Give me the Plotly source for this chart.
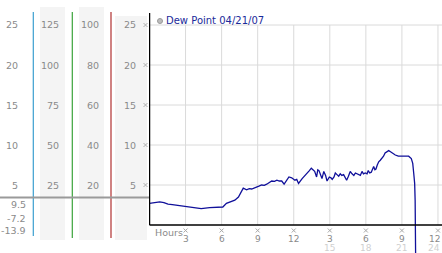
import plotly.graph_objects as go

W, H = 442, 253

# ---- data ----
hours = [0.0, 0.4, 0.85, 1.2, 1.54, 1.9, 2.37, 2.7, 3.06, 3.4, 3.76, 4.3, 5.0, 5.5, 6.1,
         6.4, 6.7, 7.1, 7.4, 7.67, 7.8, 8.08, 8.3, 8.5, 8.7, 8.9, 9.1, 9.33, 9.55, 9.75,
         9.95, 10.17, 10.4, 10.6, 10.8, 11.0, 11.2, 11.4, 11.6, 11.83, 12.1, 12.25, 12.4,
         12.7, 12.9, 13.1, 13.3, 13.46, 13.6, 13.74, 13.9, 14.0, 14.1, 14.22, 14.35, 14.5,
         14.65, 14.77, 14.96, 15.1, 15.2, 15.35, 15.46, 15.6, 15.74, 15.87, 16.0, 16.15,
         16.3, 16.4, 16.55, 16.7, 16.85, 17.0, 17.13, 17.26, 17.4, 17.54, 17.68, 17.8,
         17.95, 18.1, 18.2, 18.32, 18.45, 18.55, 18.65, 18.75, 18.84, 18.95, 19.07, 19.2,
         19.34, 19.47, 19.6, 19.75, 19.9, 20.05, 20.17, 20.3, 20.45, 20.7, 21.15, 21.56,
         21.78, 21.9, 21.98, 22.06, 22.1, 22.2]
dew_point = [2.7, 2.75, 2.9, 2.8, 2.6, 2.55, 2.45, 2.4, 2.3, 2.2, 2.08, 2.05, 2.17, 2.2, 2.25,
             2.7, 2.9, 3.1, 3.5, 4.3, 4.6, 4.4, 4.55, 4.5, 4.65, 4.7, 4.85, 5.0, 4.95, 5.1,
             5.3, 5.5, 5.45, 5.6, 5.5, 5.5, 5.1, 5.5, 6.0, 5.9, 5.6, 5.7, 5.2,
             5.8, 6.1, 6.5, 6.8, 7.1, 6.9, 6.7, 6.0, 6.9, 6.8, 6.3, 5.8, 6.7,
             6.2, 5.5, 6.0, 5.9, 5.7, 6.0, 6.5, 6.3, 6.1, 6.4, 6.2, 6.3,
             5.8, 5.6, 6.1, 6.7, 6.4, 6.2, 6.5, 6.4, 6.3, 6.2, 6.7, 6.4,
             6.5, 6.4, 6.8, 6.5, 6.6, 7.1, 7.3, 6.9, 7.0, 7.5, 7.9, 8.1,
             8.3, 8.6, 9.0, 9.1, 9.3, 9.15, 9.0, 8.9, 8.75, 8.6, 8.6, 8.6,
             8.3, 7.7, 6.5, 5.2, 3.1, -13.9]
assert len(hours) == len(dew_point)

series_name = "Dew Point 04/21/07"
y_ticks = [5, 10, 15, 20, 25]
col2_labels = ["25", "50", "75", "100", "125"]
col3_labels = ["20", "40", "60", "80", "100"]
x_ticks = [3, 6, 9, 12, 15, 18, 21, 24]
x_tick_labels = ["3", "6", "9", "12", "3", "6", "9", "12"]
x_tick_labels2 = {15: "15", 18: "18", 21: "21", 24: "24"}
current_labels = ["9.5", "-7.2", "-13.9"]

# ---- geometry helpers (pixel -> paper) ----
def px(x):
    return x / W

def py(y):
    return 1 - y / H

X0_PX = 149.0
PX_PER_HOUR = 12.02
PX_PER_UNIT = 8.0
Y0_PX = 225.0
x_range = [(X0_PX - (X0_PX + 0.5)) / PX_PER_HOUR, (W - (X0_PX + 0.5)) / PX_PER_HOUR]
y_range = [(Y0_PX - H) / PX_PER_UNIT, (Y0_PX - 13) / PX_PER_UNIT]

def hour_px(h):
    return X0_PX + 0.5 + h * PX_PER_HOUR

fig = go.Figure()
fig.add_trace(go.Scatter(x=hours, y=dew_point, mode="lines",
                         line=dict(color="#10109a", width=1.3),
                         showlegend=False, hoverinfo="skip"))

shapes = []
annotations = []
FONT = "DejaVu Sans"
GRAY = "#8a8a8a"

def tick_mark(cx, cy, color="#b0b0b0"):
    # small hatched tick mark, drawn as a tiny cross (pixel coords)
    for (x0, y0, x1, y1) in [(cx - 2, cy - 2, cx + 2, cy + 2), (cx - 2, cy + 2, cx + 2, cy - 2)]:
        shapes.append(dict(type="line", xref="paper", yref="paper", x0=px(x0), y0=py(y0),
                           x1=px(x1), y1=py(y1), line=dict(color=color, width=1)))

# left panel backgrounds
for x0, x1, y0, y1 in [(40, 65, 7, 240), (79, 104, 7, 240), (115, 147, 16, 240)]:
    shapes.append(dict(type="rect", xref="paper", yref="paper", x0=px(x0), x1=px(x1),
                       y0=py(y1), y1=py(y0), fillcolor="#f4f4f4", line=dict(width=0),
                       layer="below"))

# gridlines in the plot
for v in y_ticks:
    shapes.append(dict(type="line", xref="x", yref="y", x0=0, x1=x_range[1], y0=v, y1=v,
                       line=dict(color="#dadada", width=1), layer="below"))
for h in x_ticks:
    shapes.append(dict(type="line", xref="x", yref="y", x0=h, x1=h, y0=0, y1=25,
                       line=dict(color="#dadada", width=1), layer="below"))

# axis lines
shapes.append(dict(type="line", xref="x", yref="y", x0=0, x1=0, y0=0, y1=y_range[1],
                   line=dict(color="black", width=1.5)))
shapes.append(dict(type="line", xref="x", yref="y", x0=0, x1=x_range[1], y0=0, y1=0,
                   line=dict(color="black", width=1.5)))

# left panel colored lines
for xp, col, y0, y1 in [(33.3, "#3a9fd0", 12, 236), (72.3, "#3aa33a", 12, 238),
                        (111, "#b03030", 12, 238)]:
    shapes.append(dict(type="line", xref="paper", yref="paper", x0=px(xp), x1=px(xp),
                       y0=py(y0), y1=py(y1), line=dict(color=col, width=1.2)))
# gray horizontal divider
shapes.append(dict(type="line", xref="paper", yref="paper", x0=0, x1=px(149),
                   y0=py(197.5), y1=py(197.5), line=dict(color="#9a9a9a", width=2)))

# legend marker
shapes.append(dict(type="circle", xref="paper", yref="paper", x0=px(157.5), x1=px(162.5),
                   y0=py(23.5), y1=py(18.5), fillcolor="#bdbdbd",
                   line=dict(color="#9a9a9a", width=1)))
annotations.append(dict(text=series_name, xref="paper", yref="paper", x=px(164), y=py(20.5),
                        xanchor="left", yanchor="middle", showarrow=False,
                        font=dict(family=FONT, size=10, color="#1a2a9a")))

# left columns of labels
def lab(text, xr, yv, color=GRAY, size=9.5):
    annotations.append(dict(text=text, xref="paper", yref="paper", x=px(xr), y=py(yv),
                            xanchor="right", yanchor="middle", showarrow=False,
                            font=dict(family=FONT, size=size, color=color)))

for i, v in enumerate(y_ticks):
    ypx = Y0_PX - v * PX_PER_UNIT
    lab(str(v), 20, ypx)
    lab(col2_labels[i], 60.5, ypx)
    lab(col3_labels[i], 100.5, ypx)
    lab(str(v), 138, ypx)
    tick_mark(145.5, ypx)

for t, ypos in zip(current_labels, [204.5, 218, 230]):
    lab(t, 27.5, ypos)

# x axis labels
annotations.append(dict(text="Hours", xref="paper", yref="paper", x=px(153), y=py(232),
                        xanchor="left", yanchor="middle", showarrow=False,
                        font=dict(family=FONT, size=9.5, color=GRAY)))
for h, t in zip(x_ticks, x_tick_labels):
    last = h == x_ticks[-1]
    xa = "right" if last else "center"
    xr = "paper" if last else "x"
    xv = px(441.5) if last else h
    tick_mark(min(hour_px(h), 439.5), 230.5, "#a8a8a8")
    annotations.append(dict(text=t, xref=xr, yref="paper", x=xv, y=py(238.5),
                            xanchor=xa, yanchor="middle", showarrow=False,
                            font=dict(family=FONT, size=9, color=GRAY)))
    if h in x_tick_labels2:
        annotations.append(dict(text=x_tick_labels2[h], xref=xr, yref="paper", x=xv,
                                y=py(248), xanchor=xa, yanchor="middle",
                                showarrow=False,
                                font=dict(family=FONT, size=9, color="#d0d0d0")))

fig.update_layout(
    width=W, height=H, margin=dict(l=0, r=0, t=0, b=0),
    paper_bgcolor="white", plot_bgcolor="white",
    xaxis=dict(domain=[px(X0_PX), 1], range=x_range, showgrid=False, zeroline=False,
               showticklabels=False, ticks="", showline=False, fixedrange=True),
    yaxis=dict(domain=[0, py(13)], range=y_range, showgrid=False, zeroline=False,
               showticklabels=False, ticks="", showline=False, fixedrange=True),
    shapes=shapes, annotations=annotations, showlegend=False,
)

fig.write_html("out.html", config={"displayModeBar": False})
